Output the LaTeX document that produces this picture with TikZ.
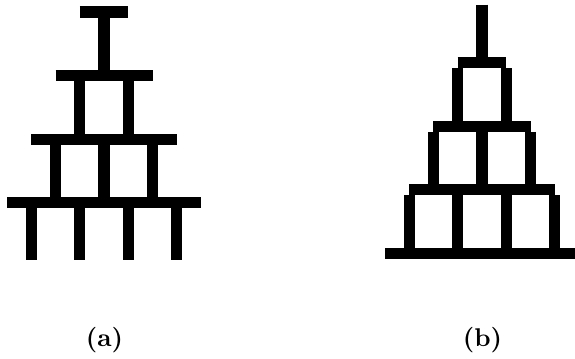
\documentclass[tikz,border=0pt]{standalone}
\begin{document}
\begin{tikzpicture}[x=0.39pt,y=-0.39pt,
   barra/.style={line width=4.3pt,line cap=butt}]
   \useasboundingbox (0,0) rectangle (575,358);
   % (a)
   \draw[barra] (79.75,12) -- (128.25,12)
   (55.5,75.6) -- (152.5,75.6)
   (31.25,139.2) -- (176.75,139.2)
   (7,202.8) -- (201,202.8);
   \draw[barra] (104,12) -- (104,75.6)
   (79.75,75.6) -- (79.75,139.2) (128.25,75.6) -- (128.25,139.2)
   (55.5,139.2) -- (55.5,202.8) (104,139.2) -- (104,202.8) (152.5,139.2) -- (152.5,202.8)
   (31.25,202.8) -- (31.25,260) (79.75,202.8) -- (79.75,260)
   (128.25,202.8) -- (128.25,260) (176.75,202.8) -- (176.75,260);
   \node[anchor=base] (etiqa) at (104.5,346.5) {\textbf{(a)}};

   % (b)
   \draw[barra] (482,4.7) -- (482,57.3);
   \draw[barra] (457.7,62.8) -- (506.3,62.8)
   (433.4,126.3) -- (530.6,126.3)
   (409.1,189.8) -- (554.9,189.8)
   (385.2,253.3) -- (575,253.3);
   \draw[barra] (457.7,68.3) -- (457.7,120.8) (506.3,68.3) -- (506.3,120.8)
   (433.4,131.8) -- (433.4,184.3) (482,131.8) -- (482,184.3) (530.6,131.8) -- (530.6,184.3)
   (409.1,195.3) -- (409.1,247.8) (457.7,195.3) -- (457.7,247.8)
   (506.3,195.3) -- (506.3,247.8) (554.9,195.3) -- (554.9,247.8);
   \node[anchor=base] (etiqb) at (482.5,346.5) {\textbf{(b)}};
\end{tikzpicture}
\end{document}
